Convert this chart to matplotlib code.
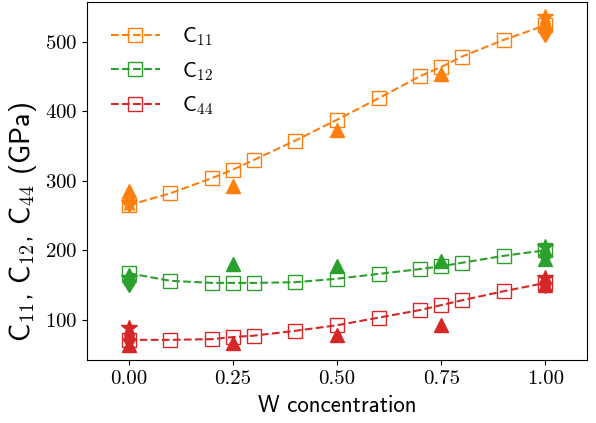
import matplotlib
matplotlib.use("Agg")
import matplotlib.pyplot as plt

plt.rcParams["mathtext.fontset"] = "cm"
plt.rcParams["axes.formatter.use_mathtext"] = True

# squares: fitted/computed values along the concentration grid
conc = [0.0, 0.1, 0.2, 0.25, 0.3, 0.4, 0.5, 0.6, 0.7, 0.75, 0.8, 0.9, 1.0]
c11_sq = [265, 282, 304, 316, 330, 358, 388, 419, 451, 464, 479, 503, 524]
c12_sq = [167, 156, 153, 153, 153, 154, 159, 166, 173, 177, 182, 192, 200]
c44_sq = [71, 71, 72, 75, 77, 84, 92, 103, 114, 121, 128, 141, 153]

# triangles
conc_tri = [0.0, 0.25, 0.5, 0.75, 1.0]
c11_tri = [286, 293, 373, 454, 527]
c12_tri = [164, 180, 178, 184, 187]
c44_tri = [64, 67, 78, 92, 150]

# diamonds and stars at the pure ends
conc_end = [0.0, 1.0]
c11_dia = [270, 514]
c12_dia = [154, 193]
c44_dia = [72, 153]
c11_star = [268, 536]
c12_star = [160, 205]
c44_star = [88, 160]

labels = ["C$_{11}$", "C$_{12}$", "C$_{44}$"]
colors = ["tab:orange", "tab:green", "tab:red"]

fig = plt.figure(figsize=(5.96, 4.23), dpi=100)
ax = fig.add_subplot(111)
fig.subplots_adjust(left=0.146, right=0.985, top=0.996, bottom=0.149)

for sq, tri, dia, star, lab, col in zip(
    [c11_sq, c12_sq, c44_sq],
    [c11_tri, c12_tri, c44_tri],
    [c11_dia, c12_dia, c44_dia],
    [c11_star, c12_star, c44_star],
    labels, colors,
):
    ax.plot(conc_end, star, "*", color=col, markersize=12, linestyle="none")
    ax.plot(conc_end, dia, "d", color=col, markersize=10, linestyle="none")
    ax.plot(conc_tri, tri, "^", color=col, markersize=10, linestyle="none")
    ax.plot(conc, sq, "s--", color=col, markerfacecolor="none", markersize=10,
            markeredgewidth=1.0, linewidth=1.5, label=lab)

ax.set_xlim(-0.1, 1.1)
ax.set_ylim(42, 558)
ax.set_xticks([0.0, 0.25, 0.5, 0.75, 1.0])
ax.set_yticks([100, 200, 300, 400, 500])
ax.set_xticklabels(["0.00", "0.25", "0.50", "0.75", "1.00"])
for t in ax.get_xticklabels() + ax.get_yticklabels():
    t.set_fontfamily("cmr10")
    t.set_fontsize(15)

ax.set_xlabel("W concentration", family="cmss10", fontsize=16.5, labelpad=5)
ax.set_ylabel("C$_{11}$, C$_{12}$, C$_{44}$ (GPa)", family="cmss10", fontsize=20.5)
ax.yaxis.set_label_coords(-0.097, 0.385)

leg = ax.legend(loc="upper left", frameon=False, prop={"family": "cmss10", "size": 15.5},
                handlelength=2.3, handletextpad=1.0, labelspacing=0.55,
                borderaxespad=0.7)

fig.savefig("out.png", dpi=100)
